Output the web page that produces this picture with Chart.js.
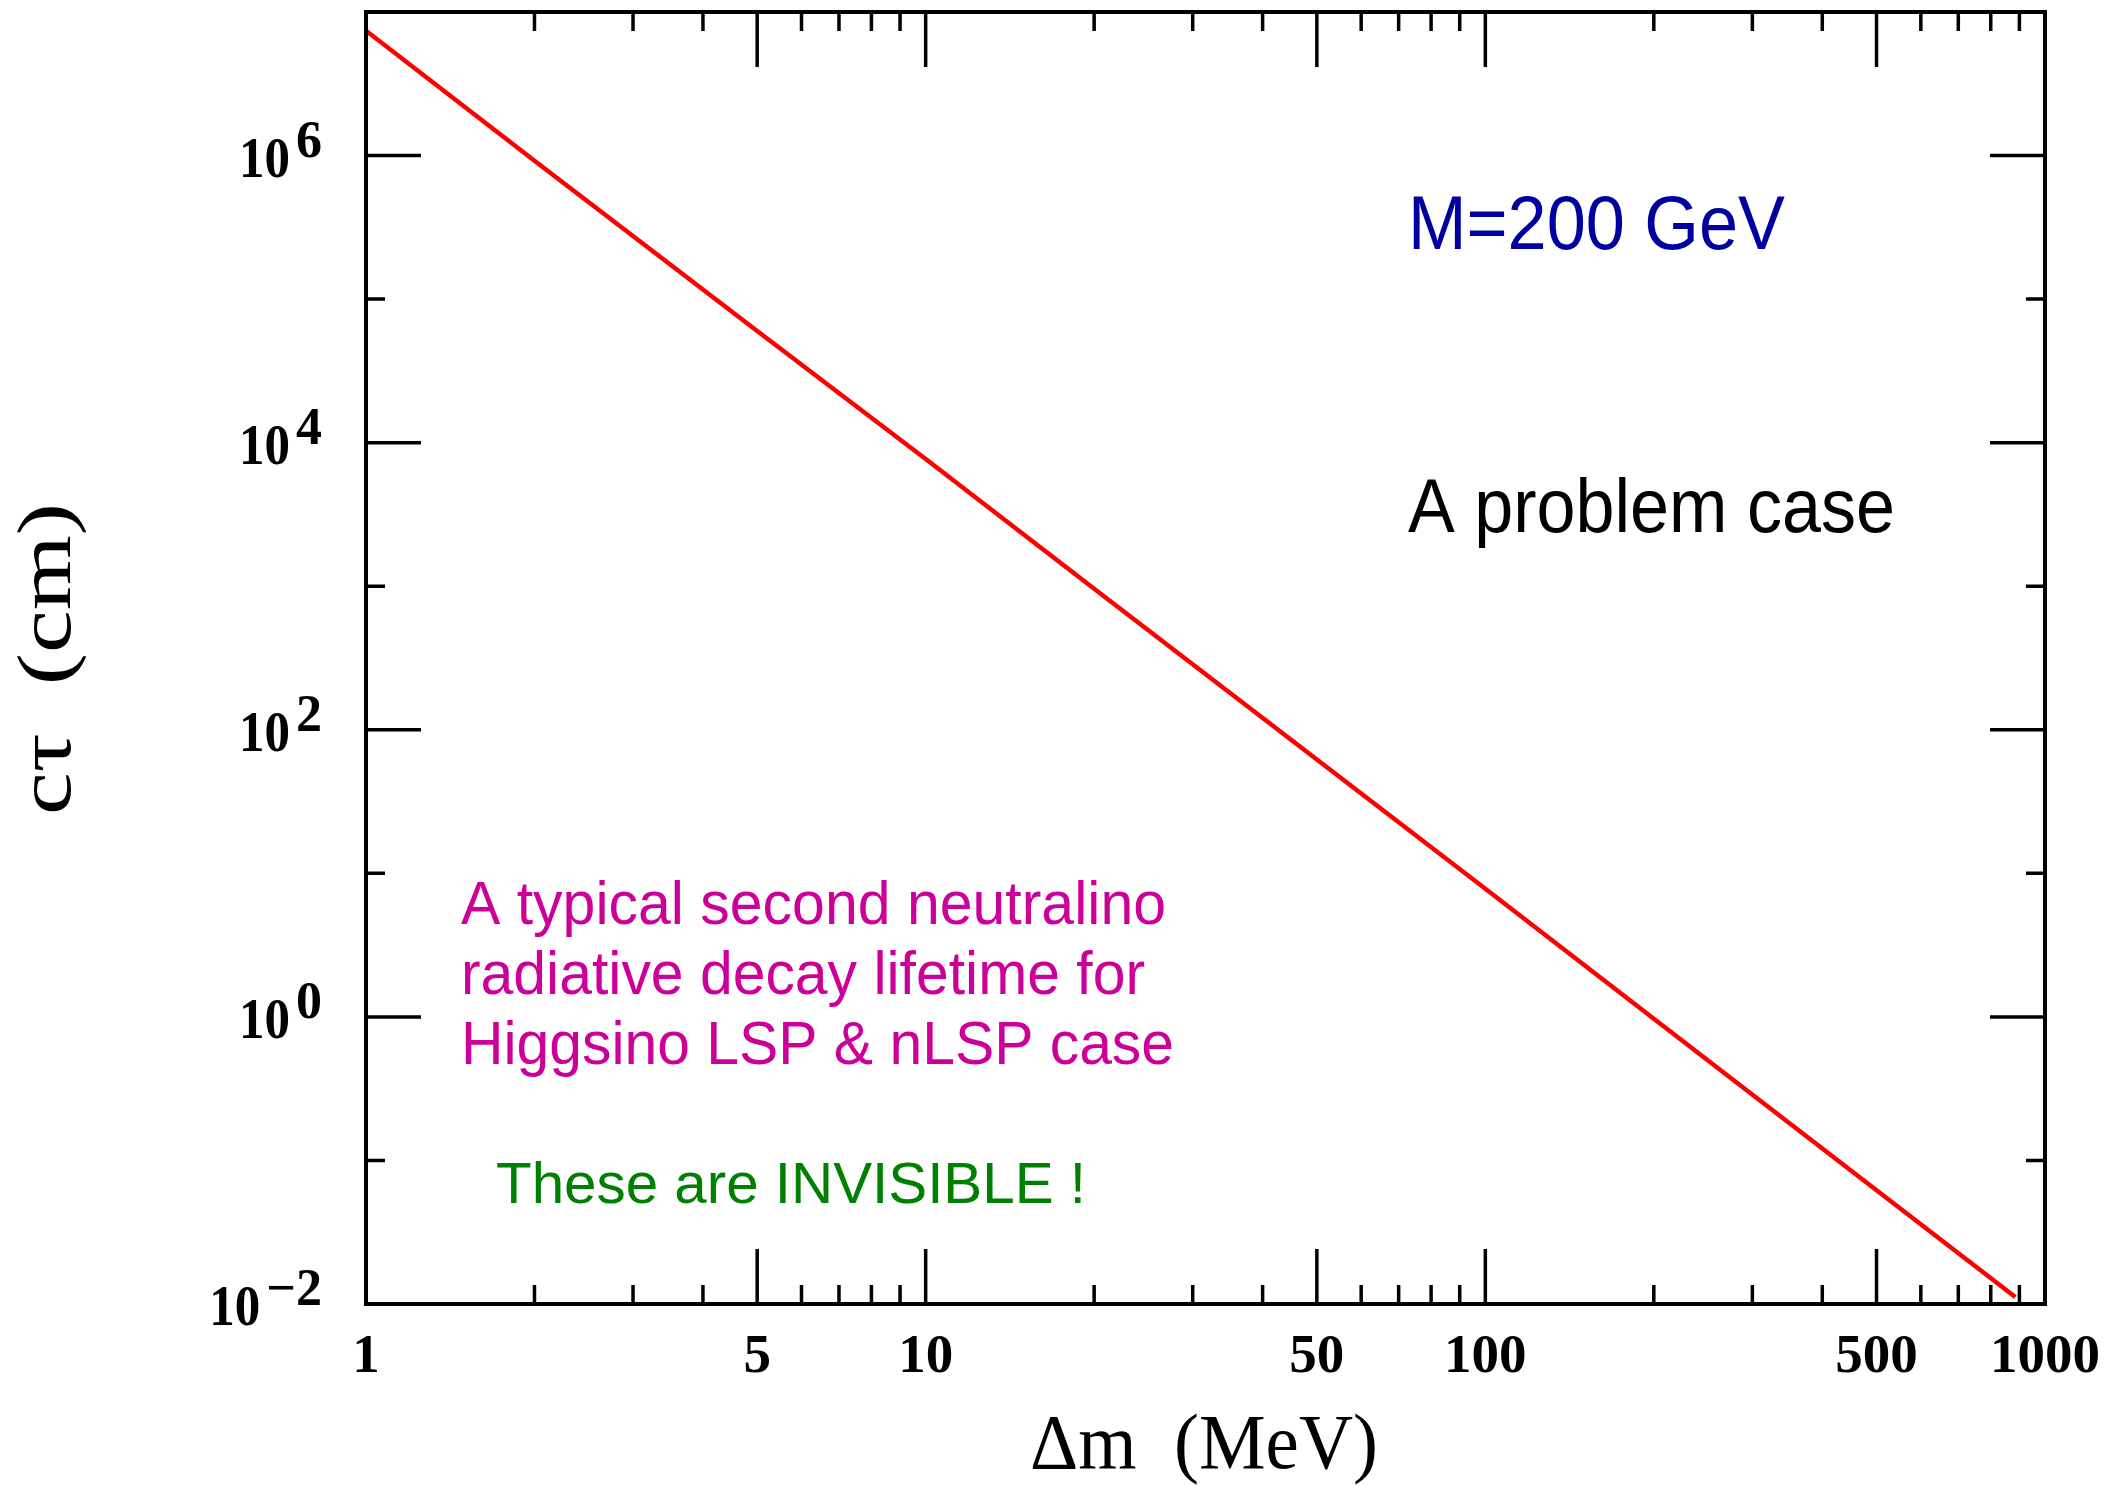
<!DOCTYPE html>
<html>
<head>
<meta charset="utf-8">
<script src="https://cdn.jsdelivr.net/npm/chart.js@4.4.1/dist/chart.umd.min.js"></script>
<style>
html,body{margin:0;padding:0;background:#ffffff;}
#wrap{width:2112px;height:1486px;}
canvas{display:block;}
</style>
</head>
<body>
<div id="wrap"><canvas id="c" width="2112" height="1486"></canvas></div>
<script>
// ---- data ----
const deltaM = [1, 2, 5, 10, 20, 50, 100, 200, 500, 885];
const ctau   = [7.4e6, 9.2e5, 6.0e4, 7.7e3, 9.6e2, 62, 7.8, 0.97, 0.062, 0.0112];

const xMajorTicks = [1, 5, 10, 50, 100, 500, 1000];
const xTickLabels = ['1', '5', '10', '50', '100', '500', '1000'];
const xMinorTicks = [2, 3, 4, 6, 7, 8, 9, 20, 30, 40, 60, 70, 80, 90, 200, 300, 400, 600, 700, 800, 900];
const yMajorTicks = [1e-2, 1, 1e2, 1e4, 1e6];
const yTickBase = '10';
const yTickExponents = ['\u22122', '0', '2', '4', '6'];
const yMinorTicks = [1e-1, 1e1, 1e3, 1e5];

const xTitle = '\u0394m  (MeV)';
const yTitle = 'c\u03C4  (cm)';
const massLabel = 'M=200 GeV';
const problemLabel = 'A problem case';
const noteLines = ['A typical second neutralino', 'radiative decay lifetime for', 'Higgsino LSP & nLSP case'];
const invisibleLabel = 'These are INVISIBLE !';

function fitText(ctx, text, x, y, font, color, targetW, align) {
  ctx.save();
  ctx.font = font;
  ctx.fillStyle = color;
  ctx.textBaseline = 'alphabetic';
  ctx.textAlign = 'left';
  const w = ctx.measureText(text).width;
  const tw = targetW || w;
  const sx = tw / w;
  let x0 = x;
  if (align === 'center') x0 = x - tw / 2;
  else if (align === 'right') x0 = x - tw;
  ctx.translate(x0, y);
  ctx.scale(sx, 1);
  ctx.fillText(text, 0, 0);
  ctx.restore();
}

const framePlugin = {
  id: 'frame',
  afterDraw(chart) {
    const ctx = chart.ctx;
    const xs = chart.scales.x, ys = chart.scales.y;
    const a = chart.chartArea;
    const L = a.left, R = a.right, T = a.top, B = a.bottom;
    const MAJ = 55, MIN = 19;
    ctx.save();
    ctx.strokeStyle = '#000';
    ctx.lineCap = 'butt';
    // ticks (inward, all four sides)
    ctx.lineWidth = 3.5;
    ctx.beginPath();
    const xt = (v, len) => {
      const px = xs.getPixelForValue(v);
      if (px <= L + 1 || px >= R - 1) return;
      ctx.moveTo(px, B); ctx.lineTo(px, B - len);
      ctx.moveTo(px, T); ctx.lineTo(px, T + len);
    };
    const yt = (v, len) => {
      const py = ys.getPixelForValue(v);
      if (py <= T + 1 || py >= B - 1) return;
      ctx.moveTo(L, py); ctx.lineTo(L + len, py);
      ctx.moveTo(R, py); ctx.lineTo(R - len, py);
    };
    xMajorTicks.forEach(v => xt(v, MAJ));
    xMinorTicks.forEach(v => xt(v, MIN));
    yMajorTicks.forEach(v => yt(v, MAJ));
    yMinorTicks.forEach(v => yt(v, MIN));
    ctx.stroke();
    // frame
    ctx.lineWidth = 4;
    ctx.strokeRect(L, T, R - L, B - T);
    ctx.restore();

    // x tick labels
    ctx.save();
    ctx.fillStyle = '#000';
    ctx.font = 'bold 55px "Liberation Serif"';
    ctx.textAlign = 'center';
    ctx.textBaseline = 'alphabetic';
    xMajorTicks.forEach((v, i) => {
      ctx.fillText(xTickLabels[i], xs.getPixelForValue(v), 1372);
    });
    ctx.restore();

    // y tick labels: 10^n
    ctx.save();
    ctx.fillStyle = '#000';
    ctx.textBaseline = 'alphabetic';
    ctx.textAlign = 'left';
    const rightEdge = 322;
    yMajorTicks.forEach((v, i) => {
      const py = ys.getPixelForValue(v);
      ctx.font = 'bold 52px "Liberation Serif"';
      const ew = ctx.measureText(yTickExponents[i]).width;
      const ex = rightEdge - ew;
      ctx.fillText(yTickExponents[i], ex, py + 1);
      ctx.font = 'bold 58px "Liberation Serif"';
      const bw = ctx.measureText(yTickBase).width;
      ctx.save();
      ctx.translate(ex - 6 - 51, py + 21);
      ctx.scale(51 / bw, 1);
      ctx.fillText(yTickBase, 0, 0);
      ctx.restore();
    });
    ctx.restore();

    // axis titles
    fitText(ctx, xTitle, 1030, 1468, '78px "Liberation Serif"', '#000', 348, 'left');
    ctx.save();
    ctx.translate(70, 659);
    ctx.rotate(-Math.PI / 2);
    fitText(ctx, yTitle, 0, 0, '76px "Liberation Serif"', '#000', 312, 'center');
    ctx.restore();

    // annotations
    const sans = '"Liberation Sans", Arial, sans-serif';
    fitText(ctx, massLabel, 1408, 249, '76px ' + sans, '#0000a0', 377, 'left');
    fitText(ctx, problemLabel, 1408, 532, '76px ' + sans, '#000000', 487, 'left');
    const noteW = [705, 684, 713];
    noteLines.forEach((t, i) => {
      fitText(ctx, t, 461, 924 + i * 70, '62px ' + sans, '#cc0099', noteW[i], 'left');
    });
    fitText(ctx, invisibleLabel, 496, 1203, '58px ' + sans, '#008000', 590, 'left');
  }
};

const points = deltaM.map((x, i) => ({ x: x, y: ctau[i] }));

new Chart(document.getElementById('c').getContext('2d'), {
  type: 'line',
  data: {
    datasets: [{
      data: points,
      borderColor: '#ff0000',
      borderWidth: 4.5,
      pointRadius: 0,
      tension: 0,
      fill: false
    }]
  },
  options: {
    responsive: false,
    animation: false,
    devicePixelRatio: 1,
    layout: { padding: { left: 366, right: 67, top: 12, bottom: 182 } },
    plugins: { legend: { display: false }, tooltip: { enabled: false } },
    scales: {
      x: { type: 'logarithmic', min: 1, max: 1000, display: false },
      y: { type: 'logarithmic', min: 0.01, max: 1e7, display: false }
    }
  },
  plugins: [framePlugin]
});
</script>
</body>
</html>
